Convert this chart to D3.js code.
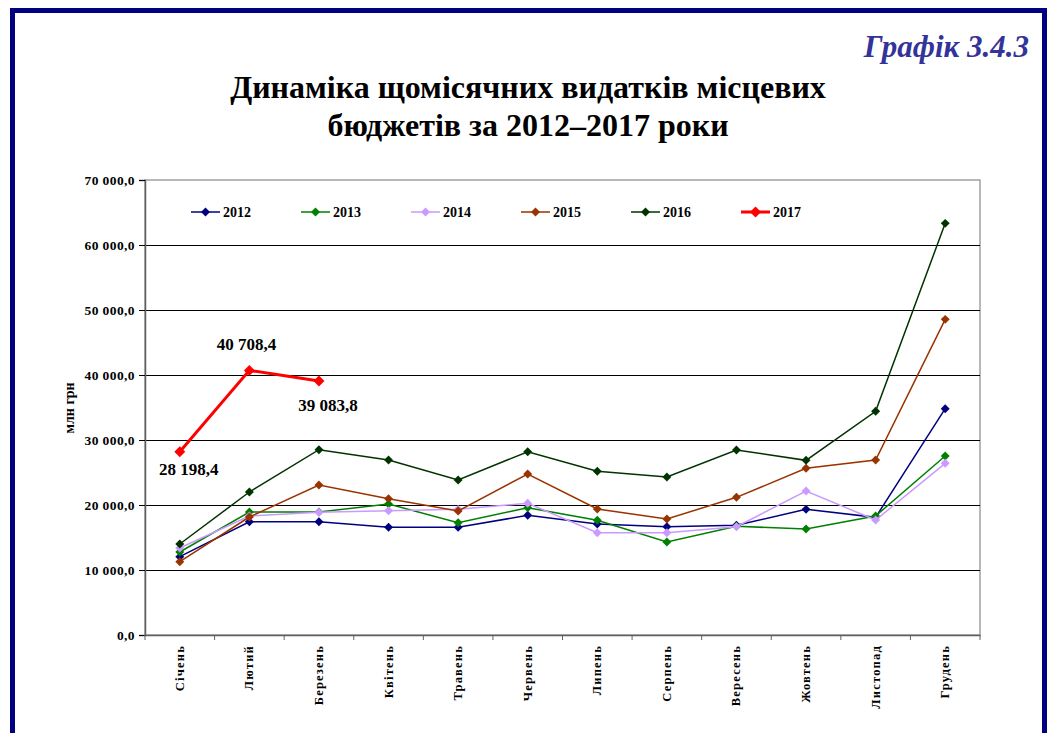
<!DOCTYPE html>
<html>
<head>
<meta charset="utf-8">
<script src="https://cdn.jsdelivr.net/npm/d3@7"></script>
<style>
  body { margin: 0; background: #fff; }
  svg { display: block; }
</style>
</head>
<body>
<svg id="chart" width="1048" height="733"></svg>
<script>
const months = ['Січень', 'Лютий', 'Березень', 'Квітень', 'Травень', 'Червень',
  'Липень', 'Серпень', 'Вересень', 'Жовтень', 'Листопад', 'Грудень']
const years = ['2012', '2013', '2014', '2015', '2016', '2017']
const colors = ['#000080', '#008000', '#cc99ff', '#993300', '#003300', '#ff0000']

const v2012 = [12050, 17430, 17430, 16570, 16570, 18410, 17080, 16670, 16870, 19330, 18100, 34820]
const v2013 = [12770, 18920, 18920, 20150, 17280, 19590, 17640, 14310, 16720, 16310, 18310, 27540]
const v2014 = [13380, 18310, 18870, 19130, 19330, 20260, 15740, 15740, 16670, 22150, 17690, 26410]
const v2015 = [11280, 18150, 23080, 20970, 19080, 24770, 19380, 17850, 21180, 25640, 26920, 48560]
const v2016 = [14000, 22000, 28510, 26920, 23850, 28200, 25180, 24310, 28460, 26870, 34410, 63330]
const v2017 = [28198.4, 40708.4, 39083.8]
const series = [v2012, v2013, v2014, v2015, v2016, v2017]

const yTicks = [0, 10000, 20000, 30000, 40000, 50000, 60000, 70000]

const FONT = 'Liberation Serif'
const svg = d3.select('#chart')
const margin = { left: 145, right: 980, top: 180, bottom: 635 }

// navy frame
svg.append('path')
  .attr('d', 'M12.5,740 V10.5 H1044.5 V740')
  .attr('fill', 'none')
  .attr('stroke', '#000080')
  .attr('stroke-width', 5)

svg.append('text')
  .attr('x', 1029).attr('y', 57)
  .attr('text-anchor', 'end')
  .style('font-family', FONT)
  .attr('font-size', 31).attr('font-weight', 'bold').attr('font-style', 'italic')
  .attr('fill', '#333399')
  .text('Графік 3.4.3')

const title = svg.append('text')
  .attr('text-anchor', 'middle')
  .style('font-family', FONT)
  .attr('font-size', 32).attr('font-weight', 'bold')
title.append('tspan').attr('x', 528).attr('y', 98).text('Динаміка щомісячних видатків місцевих')
title.append('tspan').attr('x', 528).attr('y', 136).text('бюджетів за 2012–2017 роки')

const x = d3.scaleBand().domain(months).range([margin.left, margin.right])
const y = d3.scaleLinear().domain([0, 70000]).range([margin.bottom, margin.top])

const fmt = d => d3.format(',.1f')(d).replace(/,/g, ' ').replace('.', ',')

// plot border
svg.append('rect')
  .attr('x', margin.left).attr('y', margin.top)
  .attr('width', margin.right - margin.left).attr('height', margin.bottom - margin.top)
  .attr('fill', '#fff').attr('stroke', '#a0a0a0').attr('stroke-width', 1.5)

// grid
svg.append('g')
  .selectAll('line')
  .data(yTicks.filter(d => d > 0 && d < 70000))
  .join('line')
  .attr('x1', margin.left).attr('x2', margin.right)
  .attr('y1', d => Math.round(y(d)) + 0.5).attr('y2', d => Math.round(y(d)) + 0.5)
  .attr('stroke', '#000').attr('stroke-width', 1)

// y axis
const yAxis = svg.append('g')
  .attr('transform', `translate(${margin.left},0)`)
  .call(d3.axisLeft(y).tickValues(yTicks).tickSize(6).tickPadding(4).tickFormat(fmt))
yAxis.select('.domain').attr('stroke', '#606060').attr('stroke-width', 1.5)
yAxis.selectAll('.tick line').attr('stroke', '#000')
yAxis.selectAll('text')
  .style('font-family', FONT)
  .attr('font-size', 13.5).attr('font-weight', 'bold').attr('fill', '#000')
  .attr('letter-spacing', 0.4)

svg.append('text')
  .attr('transform', 'translate(74,408) rotate(-90)')
  .attr('text-anchor', 'middle')
  .style('font-family', FONT)
  .attr('font-size', 14).attr('font-weight', 'bold')
  .text('млн грн')

// x axis
const xAxis = svg.append('g')
  .attr('transform', `translate(0,${margin.bottom})`)
  .call(d3.axisBottom(x).tickSize(0).tickFormat(''))
xAxis.select('.domain').attr('stroke', '#606060').attr('stroke-width', 1.5)
xAxis.selectAll('.sep')
  .data(d3.range(months.length + 1))
  .join('line')
  .attr('class', 'sep')
  .attr('x1', i => margin.left + i * x.step()).attr('x2', i => margin.left + i * x.step())
  .attr('y1', 0).attr('y2', 5)
  .attr('stroke', '#606060')

svg.append('g')
  .selectAll('text')
  .data(months)
  .join('text')
  .attr('transform', d => `translate(${x(d) + x.bandwidth() / 2 + 4},645) rotate(-90)`)
  .attr('text-anchor', 'end')
  .style('font-family', FONT)
  .attr('font-size', 12.5).attr('font-weight', 'bold')
  .attr('letter-spacing', 1.2)
  .text(d => d)

// lines
const line = d3.line()
  .x((d, i) => x(months[i]) + x.bandwidth() / 2)
  .y(d => y(d))

const marker = d3.symbol().type(d3.symbolSquare)

series.forEach((vals, s) => {
  const g = svg.append('g')
  const big = s === 5
  g.append('path')
    .datum(vals)
    .attr('d', line)
    .attr('fill', 'none')
    .attr('stroke', colors[s])
    .attr('stroke-width', big ? 3 : 1.5)
  g.selectAll('path.pt')
    .data(vals)
    .join('path')
    .attr('class', 'pt')
    .attr('transform', (d, i) => `translate(${x(months[i]) + x.bandwidth() / 2},${y(d)}) rotate(45)`)
    .attr('d', marker.size(big ? 60 : 40))
    .attr('fill', colors[s])
})

// 2017 labels
const labelDx = [9, -3, 9]
const labelDy = [23, -20, 30]
svg.append('g')
  .selectAll('text')
  .data(v2017)
  .join('text')
  .attr('x', (d, i) => x(months[i]) + x.bandwidth() / 2 + labelDx[i])
  .attr('y', (d, i) => y(d) + labelDy[i])
  .attr('text-anchor', 'middle')
  .style('font-family', FONT)
  .attr('font-size', 17).attr('font-weight', 'bold')
  .text(fmt)

// legend
const legend = svg.append('g')
  .selectAll('g')
  .data(years)
  .join('g')
  .attr('transform', (d, i) => `translate(${191 + i * 110},212)`)
legend.append('line')
  .attr('x1', 0).attr('x2', 29)
  .attr('stroke', (d, i) => colors[i])
  .attr('stroke-width', (d, i) => i === 5 ? 3 : 1.5)
legend.append('path')
  .attr('transform', 'translate(14.5,0) rotate(45)')
  .attr('d', (d, i) => marker.size(i === 5 ? 60 : 40)())
  .attr('fill', (d, i) => colors[i])
legend.append('text')
  .attr('x', 32).attr('y', 5)
  .style('font-family', FONT)
  .attr('font-size', 14).attr('font-weight', 'bold')
  .text(d => d)
</script>
</body>
</html>
